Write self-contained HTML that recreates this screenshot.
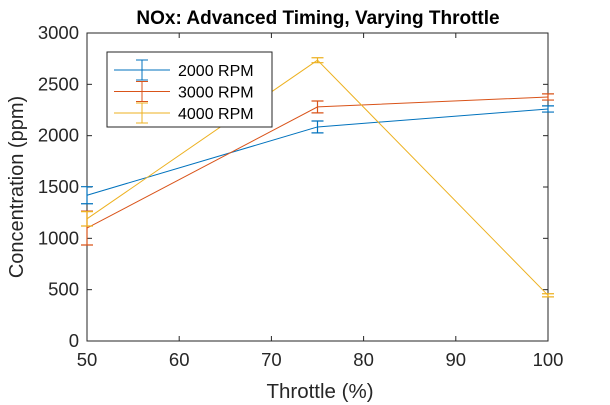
<!DOCTYPE html>
<html><head><meta charset="utf-8"><style>
body{margin:0;background:#fff;}
svg{display:block;font-family:"Liberation Sans",Arial,sans-serif;}
</style></head><body>
<svg id="chart" width="610" height="405" viewBox="0 0 610 405">
<rect width="610" height="405" fill="#fff"/>
<text x="318" y="24" text-anchor="middle" font-size="19" font-weight="bold" fill="#000">NOx: Advanced Timing, Varying Throttle</text>
<rect x="87" y="33" width="461" height="308" fill="#fff" stroke="#262626" stroke-width="1"/>
<g id="ticks"></g>
<g id="series"></g>
<text x="320" y="398" text-anchor="middle" font-size="20.5" fill="#262626">Throttle (%)</text>
<text transform="translate(23,187) rotate(-90)" text-anchor="middle" font-size="20" fill="#262626">Concentration (ppm)</text>
<g>
<rect x="107" y="52" width="165" height="75" fill="#fff" stroke="#262626" stroke-width="1"/>
<g id="legend-items"></g>
</g>
</svg>
<script>
const categories=[50,75,100];
const seriesNames=["2000 RPM","3000 RPM","4000 RPM"];
const colors=["#0072BD","#D95319","#EDB120"];
const rpm2000=[1420,2085,2260];
const rpm3000=[1100,2280,2377];
const rpm4000=[1190,2735,445];
const err2000=[83,58,30];
const err3000=[165,58,30];
const err4000=[70,24,15];
const xTicks=[50,60,70,80,90,100];
const yTicks=[0,500,1000,1500,2000,2500,3000];
const values=[rpm2000,rpm3000,rpm4000];
const errs=[err2000,err3000,err4000];
const NS="http://www.w3.org/2000/svg";
const L=87,R=548,T=33,B=341;
const xs=v=>L+(v-50)/50*(R-L);
const ys=v=>B-v/3000*(B-T);
function mk(tag,attrs,parent){const e=document.createElementNS(NS,tag);for(const k in attrs)e.setAttribute(k,attrs[k]);parent.appendChild(e);return e;}
const tg=document.getElementById('ticks');
xTicks.forEach(t=>{
 const x=xs(t);
 const l=mk('line',{x1:x,x2:x,y1:B,y2:B-5,stroke:'#262626'},tg);
 
 
 mk('line',{x1:x,x2:x,y1:T,y2:T+5,stroke:'#262626'},tg);
 const tx=mk('text',{x:x,y:B+25,'text-anchor':'middle','font-size':'18.5',fill:'#262626'},tg);
 tx.textContent=t;
 
 
});
yTicks.forEach(t=>{
 const y=ys(t);
 const l=mk('line',{x1:L,x2:L+5,y1:y,y2:y,stroke:'#262626'},tg);
 
 
 mk('line',{x1:R,x2:R-5,y1:y,y2:y,stroke:'#262626'},tg);
 const tx=mk('text',{x:L-8,y:y+6,'text-anchor':'end','font-size':'18.5',fill:'#262626'},tg);
 tx.textContent=t;
 
 
});
const sg=document.getElementById('series');
values.forEach((vals,i)=>{
 const g=mk('g',{},sg);
 
 
 const pts=vals.map((v,j)=>xs(categories[j])+','+ys(v)).join(' ');
 const pl=mk('polyline',{points:pts,fill:'none',stroke:colors[i],'stroke-width':1},g);
 
 
 vals.forEach((v,j)=>{
  const x=xs(categories[j]),e=errs[i][j];
  const y1=ys(v+e),y2=ys(v-e);
  const eb=mk('path',{d:`M${x},${y1}V${y2}M${x-6},${y1}H${x+6}M${x-6},${y2}H${x+6}`,stroke:colors[i],'stroke-width':1.2,fill:'none'},g);
  
  
 });
});
const lg=document.getElementById('legend-items');
seriesNames.forEach((n,i)=>{
 const y=70+i*21.5;
 mk('path',{d:`M114,${y}H170M142,${y-10}V${y+10}M136,${y-10}H148M136,${y+10}H148`,stroke:colors[i],'stroke-width':1,fill:'none'},lg);
 const t=mk('text',{x:178,y:y+6,'font-size':'16',fill:'#000'},lg);
 t.textContent=n;
 
 
});
</script>
</body></html>
